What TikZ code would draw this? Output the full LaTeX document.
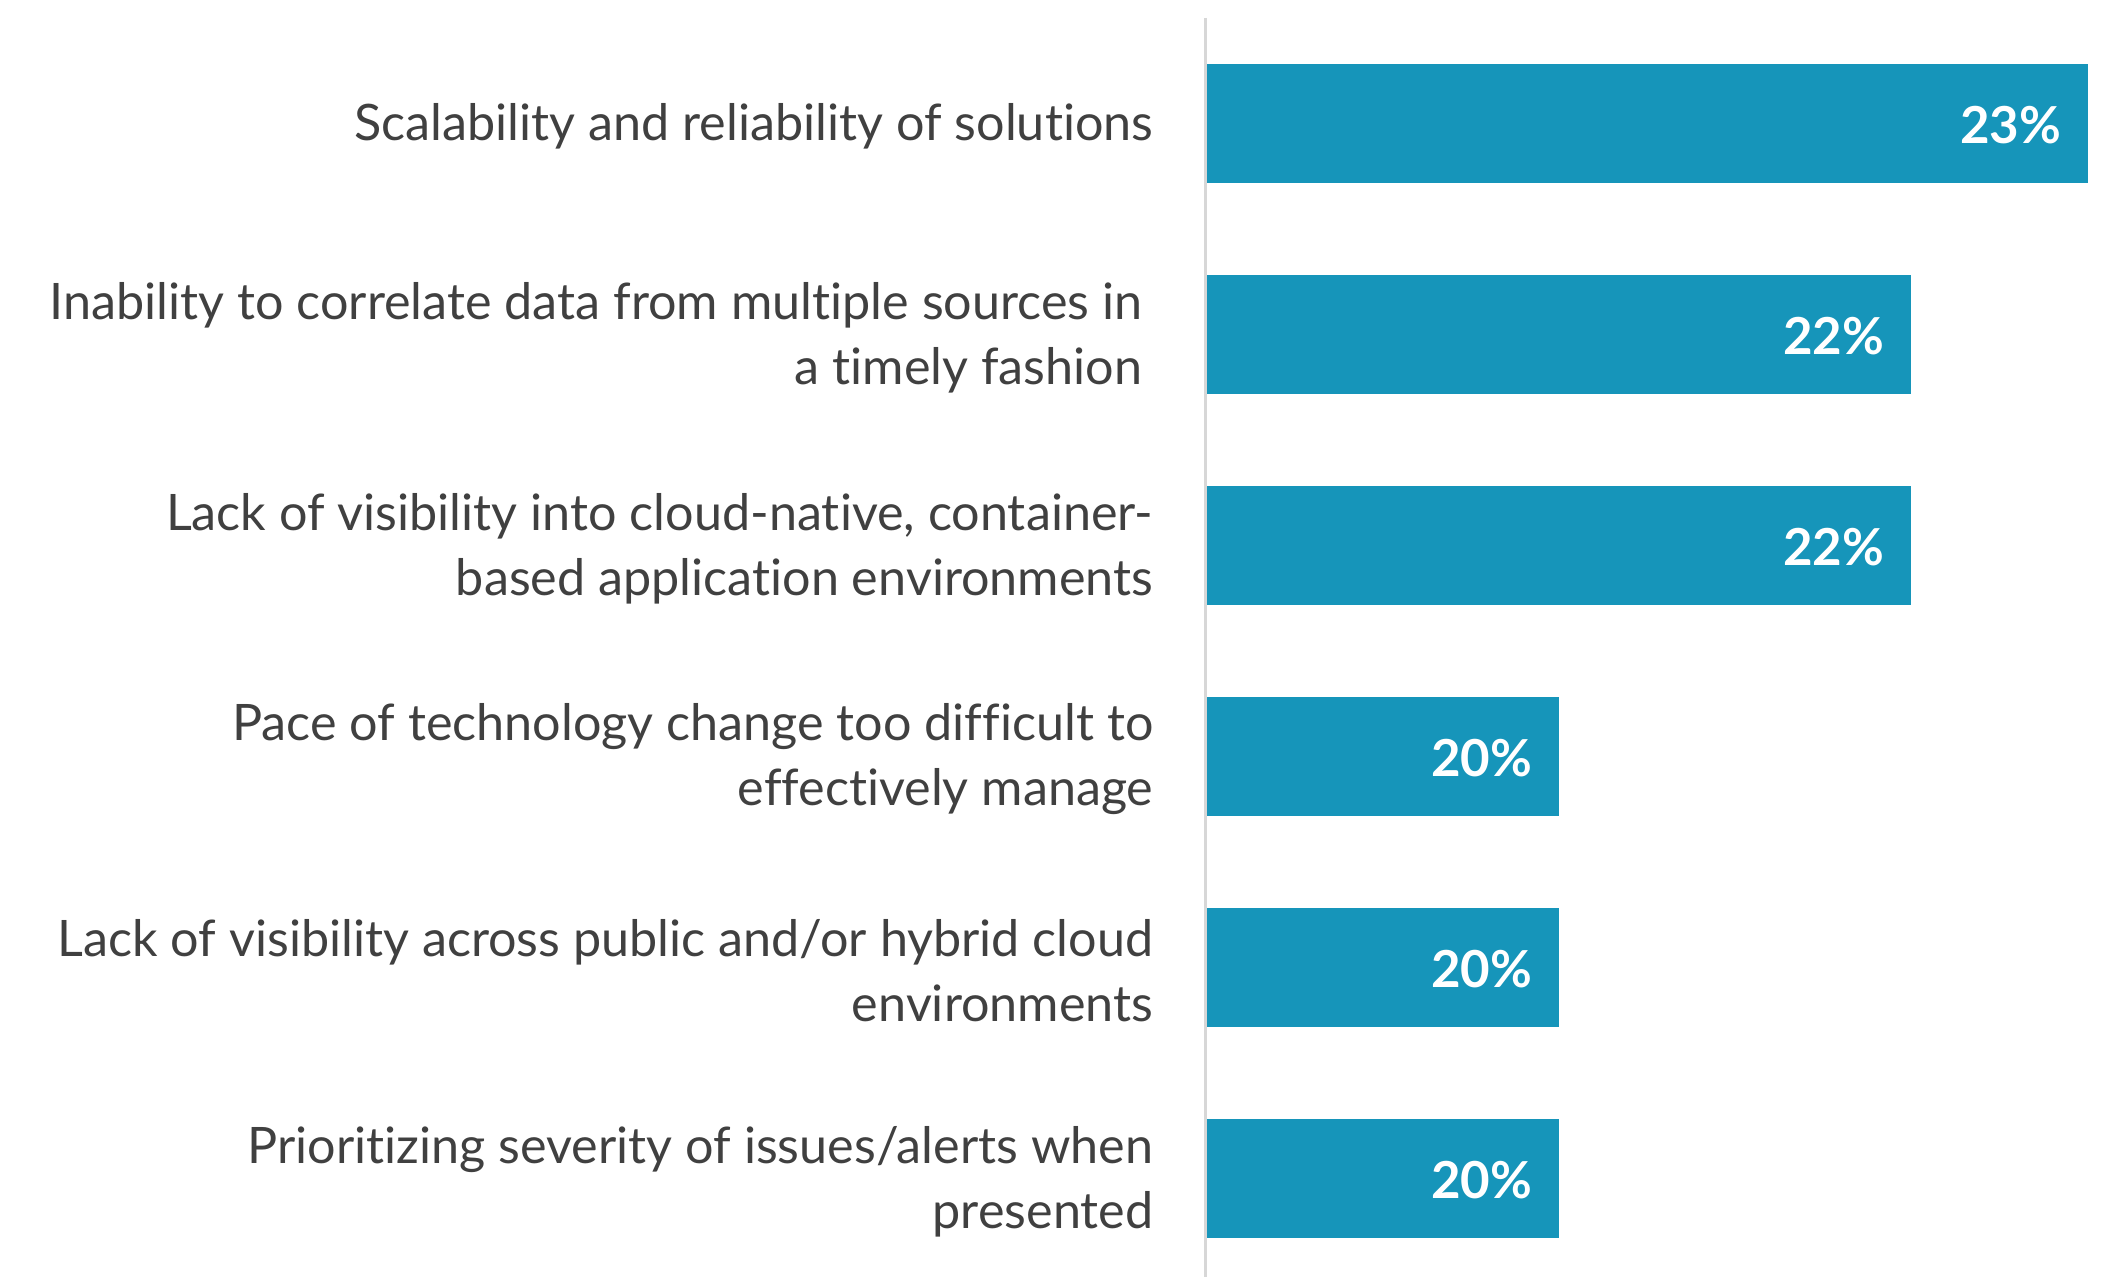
\documentclass[tikz,border=0pt]{standalone}
\usepackage{fontspec}
\setmainfont{Lato}[Ligatures=NoCommon]
\usetikzlibrary{positioning}
\definecolor{barblue}{RGB}{22,149,186}
\definecolor{labelgray}{RGB}{64,64,64}
\definecolor{axisgray}{RGB}{215,215,215}
\tikzset{
  lbl/.style={anchor=east, align=right, text=labelgray, inner sep=0pt,
    font=\fontsize{14.3}{18.5}\selectfont},
  pct/.style={anchor=base east, text=white, inner sep=0pt,
    font=\bfseries\fontsize{14.5}{18}\selectfont},
}

\begin{document}
\begin{tikzpicture}[x=0.01cm,y=-0.01cm]
\useasboundingbox (0,0) rectangle (2111,1277);
% axis
\draw[axisgray, line width=0.85pt] (1205,18) -- (1205,1277);
% bars
\foreach \i/\txt/\len/\val in {
  0/{Scalability and reliability of solutions}/2088/23\%,
  1/{Inability to correlate data from multiple sources in\hspace*{0.11cm}\\a timely fashion\hspace*{0.11cm}}/1911/22\%,
  2/{Lack of visibility into cloud-native, container-\\based application environments}/1911/22\%,
  3/{Pace of technology change too difficult to\\effectively manage}/1559/20\%,
  4/{Lack of visibility across public and/or hybrid cloud\\environments}/1559/20\%,
  5/{Prioritizing severity of issues/alerts when\\presented}/1559/20\%}{
\fill[barblue] (1207,64+211*\i) rectangle (\len,183+211*\i);
\node[lbl] (lab\i) at (1154,126.5+211*\i) {\txt};
\node[pct] (val\i) at (\len-26,144+211*\i) {\val};
}
\end{tikzpicture}
\end{document}
